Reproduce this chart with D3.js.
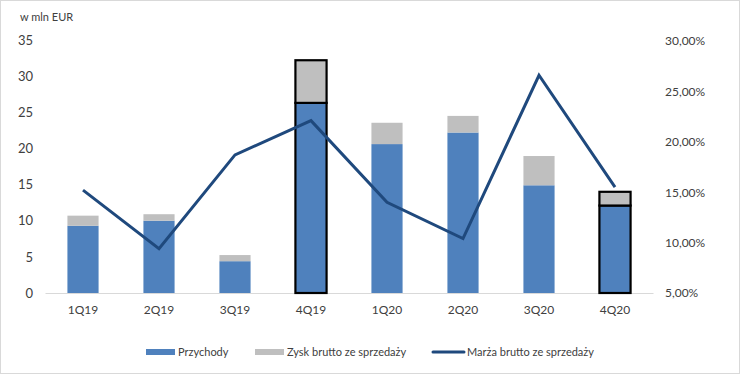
<!DOCTYPE html>
<html>
<head>
<meta charset="utf-8">
<script src="https://cdn.jsdelivr.net/npm/d3@7"></script>
<style>
  body { margin: 0; background: white; }
  text { font-family: Lato, "Liberation Sans", sans-serif; fill: #404040; }
</style>
</head>
<body>
<div id="chart"></div>
<script>
// data
const quarters = ['1Q19', '2Q19', '3Q19', '4Q19', '1Q20', '2Q20', '3Q20', '4Q20'];
const revenue = [9.3, 10.0, 4.4, 26.3, 20.6, 22.2, 14.9, 12.1];
const grossProfit = [1.4, 0.9, 0.85, 5.9, 2.95, 2.3, 4.05, 1.9];
const margin = [0.152, 0.094, 0.187, 0.221, 0.140, 0.104, 0.266, 0.155];
const leftTicks = [0, 5, 10, 15, 20, 25, 30, 35];
const rightTicks = [0.05, 0.10, 0.15, 0.20, 0.25, 0.30];
const outlined = ['4Q19', '4Q20'];

const width = 742, height = 377;
const plot = { left: 45, right: 653, top: 40, bottom: 293 };

const svg = d3.select('#chart')
  .append('svg')
  .attr('width', width)
  .attr('height', height);

// chart border
svg.append('rect')
  .attr('x', 0.5).attr('y', 0.5)
  .attr('width', width - 3).attr('height', height - 4)
  .attr('fill', 'white')
  .attr('stroke', '#d9d9d9');

const xScale = d3.scaleBand()
  .domain(quarters)
  .range([plot.left, plot.right])
  .paddingInner(0.59)
  .paddingOuter(0.295);

const yLeft = d3.scaleLinear().domain([0, 35]).range([plot.bottom, plot.top]);
const yRight = d3.scaleLinear().domain([0.05, 0.30]).range([plot.bottom, plot.top + 1]);

// left axis labels
const yAxisL = d3.axisLeft(yLeft).tickValues(leftTicks).tickSize(0).tickPadding(0);
const gL = svg.append('g').attr('transform', 'translate(33,0)').call(yAxisL);
gL.select('.domain').remove();
gL.selectAll('text').style('font-size', '13px').style('font-family', 'Lato, "Liberation Sans", sans-serif').attr('fill', '#404040');

// right axis labels
const fmtPct = d => d3.format('.2f')(d * 100).replace('.', ',') + '%';
const yAxisR = d3.axisRight(yRight).tickValues(rightTicks).tickSize(0).tickPadding(0).tickFormat(fmtPct);
const gR = svg.append('g').attr('transform', 'translate(665,0)').call(yAxisR);
gR.select('.domain').remove();
gR.selectAll('text').style('font-size', '12px').style('font-family', 'Lato, "Liberation Sans", sans-serif').attr('fill', '#404040');

// x axis
const xAxis = d3.axisBottom(xScale).tickSize(0).tickPadding(12);
const gX = svg.append('g').attr('transform', `translate(0,${plot.bottom})`).call(xAxis);
gX.select('.domain').attr('stroke', '#d9d9d9');
gX.selectAll('text').style('font-size', '12px').style('font-family', 'Lato, "Liberation Sans", sans-serif').attr('fill', '#404040');

// unit label
svg.append('text')
  .attr('x', 20).attr('y', 21)
  .style('font-size', '11px')
  .text('w mln EUR');

// bars
const bw = xScale.bandwidth();
const bars = svg.append('g').selectAll('g')
  .data(quarters)
  .enter()
  .append('g');

bars.append('rect')
  .attr('x', d => xScale(d))
  .attr('y', (d, i) => yLeft(revenue[i]))
  .attr('width', bw)
  .attr('height', (d, i) => yLeft(0) - yLeft(revenue[i]))
  .attr('fill', '#4f81bd');

bars.append('rect')
  .attr('x', d => xScale(d))
  .attr('y', (d, i) => yLeft(revenue[i] + grossProfit[i]))
  .attr('width', bw)
  .attr('height', (d, i) => yLeft(revenue[i]) - yLeft(revenue[i] + grossProfit[i]))
  .attr('fill', '#bfbfbf');

// black outline for selected quarters
bars.filter(d => outlined.includes(d)).each(function(d) {
  const i = quarters.indexOf(d);
  const g = d3.select(this);
  g.selectAll('rect').attr('stroke', 'black').attr('stroke-width', 2.2);
});

// margin line
const line = d3.line()
  .x((d, i) => xScale(quarters[i]) + bw / 2)
  .y(d => yRight(d));

svg.append('path')
  .datum(margin)
  .attr('d', line)
  .attr('fill', 'none')
  .attr('stroke', '#1f497d')
  .attr('stroke-width', 3);

// legend
const legend = svg.append('g').attr('transform', 'translate(0,352)');
const items = [
  { label: 'Przychody', x: 146, color: '#4f81bd', type: 'rect' },
  { label: 'Zysk brutto ze sprzedaży', x: 255, color: '#bfbfbf', type: 'rect' },
  { label: 'Marża brutto ze sprzedaży', x: 433, color: '#1f497d', type: 'line' }
];
items.forEach(it => {
  if (it.type === 'rect') {
    legend.append('rect').attr('x', it.x).attr('y', -3).attr('width', 29).attr('height', 6).attr('fill', it.color);
  } else {
    legend.append('line').attr('x1', it.x).attr('x2', it.x + 31).attr('y1', 0).attr('y2', 0)
      .attr('stroke', it.color).attr('stroke-width', 3).attr('stroke-linecap', 'round');
  }
  legend.append('text')
    .attr('x', it.x + (it.type === 'rect' ? 32 : 34))
    .attr('y', 4)
    .style('font-size', '11px')
    .text(it.label);
});
</script>
</body>
</html>
